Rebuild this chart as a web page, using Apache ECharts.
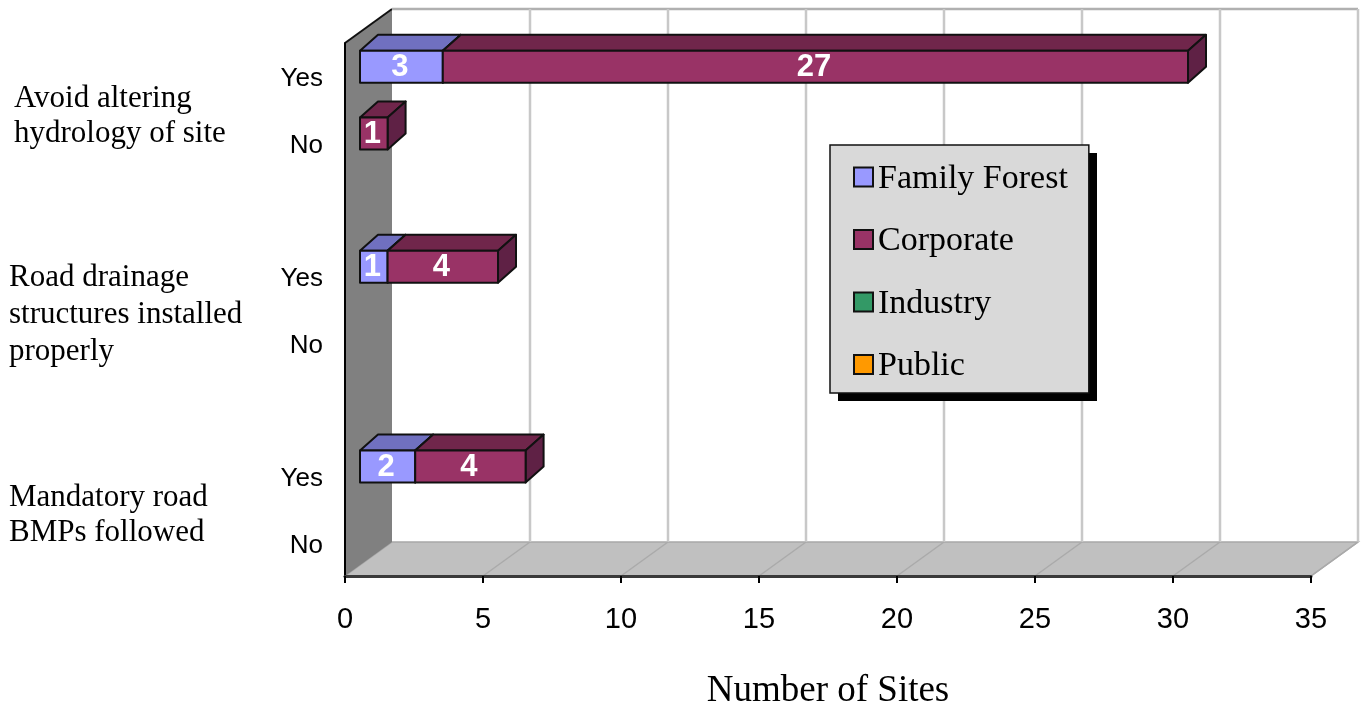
<!DOCTYPE html>
<html>
<head>
<meta charset="utf-8">
<title>Number of Sites</title>
<script src="https://cdn.jsdelivr.net/npm/echarts@6/dist/echarts.min.js"></script>
<style>
  html, body { margin: 0; padding: 0; background: #fff; }
  #chart { width: 1362px; height: 705px; }
</style>
</head>
<body>
<div id="chart"></div>
<script>
// rows top to bottom, the empty ones are the gaps between the questions
var rows = ['Yes', 'No', '', 'Yes', 'No', '', 'Yes', 'No']
var familyForest = [3, 0, 0, 1, 0, 0, 2, 0]
var corporate = [27, 1, 0, 4, 0, 0, 4, 0]
var industry = [0, 0, 0, 0, 0, 0, 0, 0]
var publicLand = [0, 0, 0, 0, 0, 0, 0, 0]
var xTicks = [0, 5, 10, 15, 20, 25, 30, 35]
var questions = [
  'Avoid altering\nhydrology of site',
  'Road drainage\nstructures installed\nproperly',
  'Mandatory road\nBMPs followed'
]

var SERIF = '"Liberation Serif", serif'
var SANS = '"Liberation Sans", sans-serif'

// 3d look: how far the back wall sits from the front plane, in px
var WALL_DX = 47
var WALL_DY = -34
// where the front of a bar sits inside that depth and how deep it is
var BAR_DX = 15
var BAR_DY = -9.5
var BAR_DEPTH_DX = 18
var BAR_DEPTH_DY = -16
var BAR_HEIGHT = 32

function poly(points, fill) {
  return {
    type: 'polygon',
    shape: { points: points },
    style: { fill: fill, stroke: '#111', lineWidth: 2, lineJoin: 'round' }
  }
}

function renderWalls(params) {
  var c = params.coordSys
  var l = c.x, r = c.x + c.width, t = c.y, b = c.y + c.height
  return {
    type: 'group',
    children: [
      {
        type: 'polygon',
        shape: { points: [[l, b], [r, b], [r + WALL_DX, b + WALL_DY], [l + WALL_DX, b + WALL_DY]] },
        style: { fill: '#c0c0c0', stroke: '#a8a8a8', lineWidth: 1.5 }
      },
      {
        type: 'polygon',
        shape: { points: [[l, t], [l + WALL_DX, t + WALL_DY], [l + WALL_DX, b + WALL_DY], [l, b]] },
        style: { fill: '#808080' }
      },
      {
        type: 'line',
        shape: { x1: l, y1: t, x2: l + WALL_DX, y2: t + WALL_DY },
        style: { stroke: '#111', lineWidth: 2 }
      },
      {
        type: 'line',
        shape: { x1: l + WALL_DX, y1: t + WALL_DY, x2: r + WALL_DX, y2: t + WALL_DY },
        style: { stroke: '#b0b0b0', lineWidth: 2.5 }
      }
    ]
  }
}

function renderGridLine(params, api) {
  var c = params.coordSys
  var x = api.coord([api.value(0), 0])[0]
  var b = c.y + c.height
  var children = []
  if (api.value(0) > 0) {
    children.push({
      type: 'line',
      shape: { x1: x + WALL_DX, y1: c.y + WALL_DY, x2: x + WALL_DX, y2: b + WALL_DY },
      style: { stroke: '#c8c8c8', lineWidth: 2.5 }
    })
    children.push({
      type: 'line',
      shape: { x1: x, y1: b, x2: x + WALL_DX, y2: b + WALL_DY },
      style: { stroke: '#aaaaaa', lineWidth: 1.5 }
    })
  }
  return { type: 'group', children: children }
}

function barRenderer(front, top, side) {
  return function(params, api) {
    var size = api.value(2) - api.value(1)
    if (size <= 0) {
      return null
    }
    var a = api.coord([api.value(1), api.value(0)])
    var z = api.coord([api.value(2), api.value(0)])
    var x1 = a[0] + BAR_DX
    var x2 = z[0] + BAR_DX
    var mid = a[1] + BAR_DY
    var y1 = mid - BAR_HEIGHT / 2
    var y2 = mid + BAR_HEIGHT / 2
    var dx = BAR_DEPTH_DX
    var dy = BAR_DEPTH_DY
    return {
      type: 'group',
      children: [
        poly([[x1, y1], [x2, y1], [x2 + dx, y1 + dy], [x1 + dx, y1 + dy]], top),
        poly([[x2, y1], [x2 + dx, y1 + dy], [x2 + dx, y2 + dy], [x2, y2]], side),
        poly([[x1, y1], [x2, y1], [x2, y2], [x1, y2]], front),
        {
          type: 'text',
          x: (x1 + x2) / 2 - 1.5,
          y: mid + 1,
          z2: 10,
          style: {
            text: String(size),
            fill: '#fff',
            font: 'bold 31px ' + SANS,
            textAlign: 'center',
            textVerticalAlign: 'middle'
          }
        }
      ]
    }
  }
}

// start and end of each stacked piece, by row
function stackData(values, below) {
  return values.map(function(v, i) {
    var start = 0
    below.forEach(function(arr) {
      start += arr[i]
    })
    return [i, start, start + v]
  })
}

var owners = [
  { name: 'Family Forest', values: familyForest, below: [], colors: ['#9999ff', '#7070c0', '#5a5aa0'] },
  { name: 'Corporate', values: corporate, below: [familyForest], colors: ['#993366', '#70264b', '#5f2145'] },
  { name: 'Industry', values: industry, below: [familyForest, corporate], colors: ['#339966', '#267350', '#1f5f42'] },
  { name: 'Public', values: publicLand, below: [familyForest, corporate, industry], colors: ['#ff9900', '#c07300', '#a06000'] }
]

var series = [
  {
    name: 'walls',
    type: 'custom',
    silent: true,
    renderItem: renderWalls,
    data: [[0]],
    encode: { x: 0 }
  },
  {
    name: 'grid',
    type: 'custom',
    silent: true,
    renderItem: renderGridLine,
    data: xTicks.map(function(t) {
      return [t]
    }),
    encode: { x: 0 }
  }
]

owners.forEach(function(o) {
  series.push({
    name: o.name,
    type: 'custom',
    silent: true,
    itemStyle: { color: o.colors[0] },
    renderItem: barRenderer(o.colors[0], o.colors[1], o.colors[2]),
    data: stackData(o.values, o.below),
    encode: { x: [1, 2], y: 0 }
  })
})

var chart = echarts.init(document.getElementById('chart'))
chart.setOption({
  animation: false,
  backgroundColor: '#fff',
  grid: { left: 345, top: 43, width: 966, height: 533, outerBoundsMode: 'none' },
  xAxis: {
    type: 'value',
    min: 0,
    max: 35,
    interval: 5,
    z: 5,
    name: 'Number of Sites',
    nameLocation: 'center',
    nameGap: 97,
    nameTextStyle: { fontFamily: SERIF, fontSize: 37, color: '#000' },
    axisLine: { show: true, lineStyle: { color: '#3a3a3a', width: 3 } },
    axisTick: { show: true, length: 7, lineStyle: { color: '#000', width: 2 } },
    axisLabel: { color: '#000', fontFamily: SANS, fontSize: 29, margin: 29 },
    splitLine: { show: false }
  },
  yAxis: {
    type: 'category',
    inverse: true,
    data: rows,
    z: 5,
    axisLine: { show: true, lineStyle: { color: '#000', width: 2 } },
    axisTick: { show: false },
    axisLabel: {
      interval: 0,
      margin: 22,
      formatter: '{a|{value}}',
      rich: {
        // top padding pushes the word down a bit from the row centre
        a: { color: '#000', fontFamily: SANS, fontSize: 26, padding: [6, 0, 0, 0] }
      }
    },
    splitLine: { show: false }
  },
  legend: {
    left: 830,
    top: 145,
    orient: 'vertical',
    selectedMode: false,
    z: 10,
    data: owners.map(function(o) {
      return o.name
    }),
    icon: 'rect',
    itemWidth: 19,
    itemHeight: 19,
    itemGap: 28.5,
    padding: [17, 21, 9.5, 23],
    backgroundColor: '#d9d9d9',
    borderColor: '#111',
    borderWidth: 1.5,
    itemStyle: { borderColor: '#111', borderWidth: 2 },
    formatter: '{a|{name}}',
    textStyle: {
      rich: {
        a: { fontFamily: SERIF, fontSize: 34, color: '#000', padding: [4, 0, 0, 0] }
      }
    }
  },
  graphic: [
    {
      // legend drop shadow, the legend's own shadow also shadows its border
      type: 'rect',
      z: 9,
      left: 838,
      top: 153,
      shape: { width: 259, height: 248 },
      style: { fill: '#000' }
    },
    {
      type: 'text',
      left: 14,
      top: 81,
      style: { text: questions[0], font: '31px ' + SERIF, lineHeight: 35.5, fill: '#000' }
    },
    {
      type: 'text',
      left: 9,
      top: 259,
      style: { text: questions[1], font: '31px ' + SERIF, lineHeight: 37, fill: '#000' }
    },
    {
      type: 'text',
      left: 9,
      top: 480,
      style: { text: questions[2], font: '31px ' + SERIF, lineHeight: 35.5, fill: '#000' }
    }
  ],
  series: series
})
</script>
</body>
</html>
